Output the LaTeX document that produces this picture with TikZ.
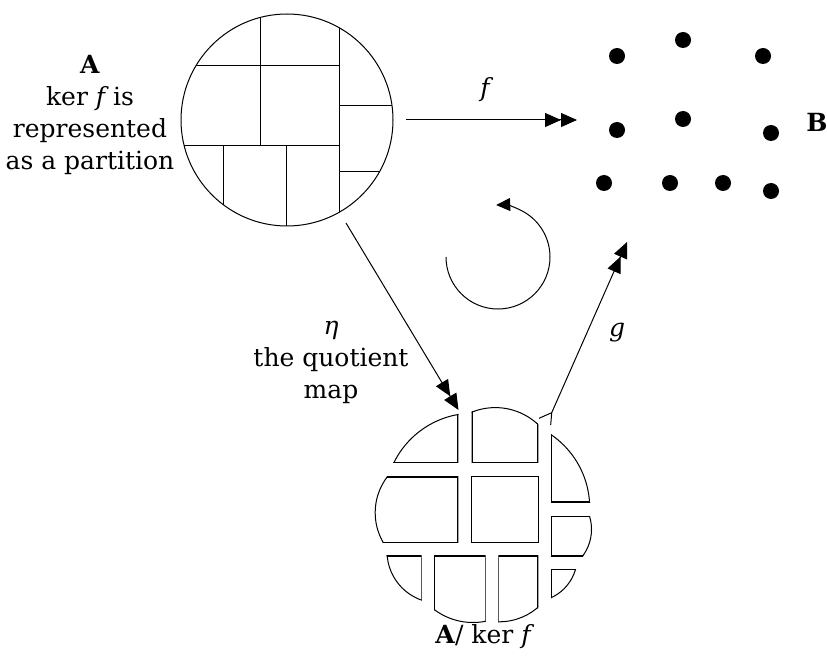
\documentclass[tikz,border=0pt]{standalone}
\usepackage{fontspec}
\setmainfont{DejaVu Serif}
\usetikzlibrary{arrows.meta}

% one block of the quotient: a disc cut by a rectangle, outlined on the inside
% #1 disc centre, #2 disc radius (pt), #3 and #4 opposite corners of the rectangle
\newcommand\qpiece[4]{%
  \begin{scope}
    \clip #1 circle[radius=#2pt];
    \clip #3 rectangle #4;
    \draw[line width=2pt] #1 circle[radius=#2pt];
    \draw[line width=2pt] #3 rectangle #4;
  \end{scope}}

\begin{document}
\begin{tikzpicture}[x=1pt,y=-1pt,
  edge/.style={line width=1pt},
  dbl/.style={-{Triangle[length=16pt,width=14pt]Triangle[length=16pt,width=14pt]}},
  dot/.style={circle,fill=black,inner sep=0pt,minimum size=16pt},
  lbl/.style={font=\fontsize{25}{32}\selectfont,inner sep=0pt,align=center},
  setA/.style={circle,draw,line width=1pt,minimum size=212pt,inner sep=0pt}]
\useasboundingbox (0,0) rectangle (827,660);

% the set A, partitioned by ker f
\node[setA] (A) at (287,120) {};
\begin{scope}
  \clip (A.center) circle[radius=106pt];
  \draw[edge] (260,0) -- (260,146);
  \draw[edge] (150,66) -- (339,66);
  \draw[edge] (339,0) -- (339,240);
  \draw[edge] (150,146) -- (339,146);
  \draw[edge] (339,106) -- (420,106);
  \draw[edge] (339,172) -- (420,172);
  \draw[edge] (223,146) -- (223,240);
  \draw[edge] (286,146) -- (286,240);
\end{scope}
\node[lbl] (Alab) at (90,115) {\textbf{A}\\ker {\itshape f} is\\represented\\as a partition};

% the set B
\node[dot] (b1) at (617,56) {};
\node[dot] (b2) at (683,40) {};
\node[dot] (b3) at (763,56) {};
\node[dot] (b4) at (617,130) {};
\node[dot] (b5) at (683,119) {};
\node[dot] (b6) at (771,133) {};
\node[dot] (b7) at (604,183) {};
\node[dot] (b8) at (670,183) {};
\node[dot] (b9) at (723,183) {};
\node[dot] (b10) at (771,191) {};
\node[lbl] (Blab) at (817,122) {\textbf{B}};

% the quotient A / ker f, one block per class
\qpiece{(473.3,501.7)}{89}{(350,380)}{(458.3,462.7)}
\qpiece{(495.3,470.1)}{63}{(471.7,380)}{(538.3,462.7)}
\qpiece{(501.2,507.8)}{89}{(551,400)}{(620,502.3)}
\qpiece{(434.7,512.7)}{60}{(360,476.7)}{(458.3,542.7)}
\draw[edge] (471.2,476.7) rectangle (538.3,542.5);
\qpiece{(547,529.4)}{45}{(551,516)}{(620,556)}
\qpiece{(532.7,557.2)}{45}{(551,569.3)}{(620,640)}
\qpiece{(438.5,551.5)}{52}{(360,555.7)}{(421.7,640)}
\qpiece{(473,558)}{65}{(434,555.7)}{(485.7,640)}
\qpiece{(499.1,562.3)}{60}{(498.3,555.7)}{(538.3,640)}
\node[lbl] (qlab) at (483,637) {\textbf{A}/ ker {\itshape f}};

% the maps
\coordinate (fs) at (406,120);
\coordinate (ft) at (577,120);
\draw[edge,dbl] (fs) -- (ft);
\node[lbl] (flab) at (485,90) {\itshape f};

\coordinate (es) at (346,223);
\coordinate (et) at (458.5,410);
\draw[edge,dbl] (es) -- (et);
\node[lbl] (elab) at (331,362) {{\itshape η}\\the quotient\\map};

\coordinate (gs) at (551.7,412.7);
\coordinate (gt) at (627,242);
\draw[edge,dbl] (gs) -- (gt);
\draw[edge] (gs) -- ++(-12.7,5.6);
\draw[edge] (gs) -- ++(-1,12.3);
\node[lbl] (glab) at (617,333) {\itshape g};

% the diagram commutes
\coordinate (rc) at (498,257);
\draw[edge,-{Triangle[length=14pt,width=13pt]}] ([xshift=-52pt]rc) arc[start angle=180,end angle=452,radius=52pt];
\end{tikzpicture}
\end{document}
